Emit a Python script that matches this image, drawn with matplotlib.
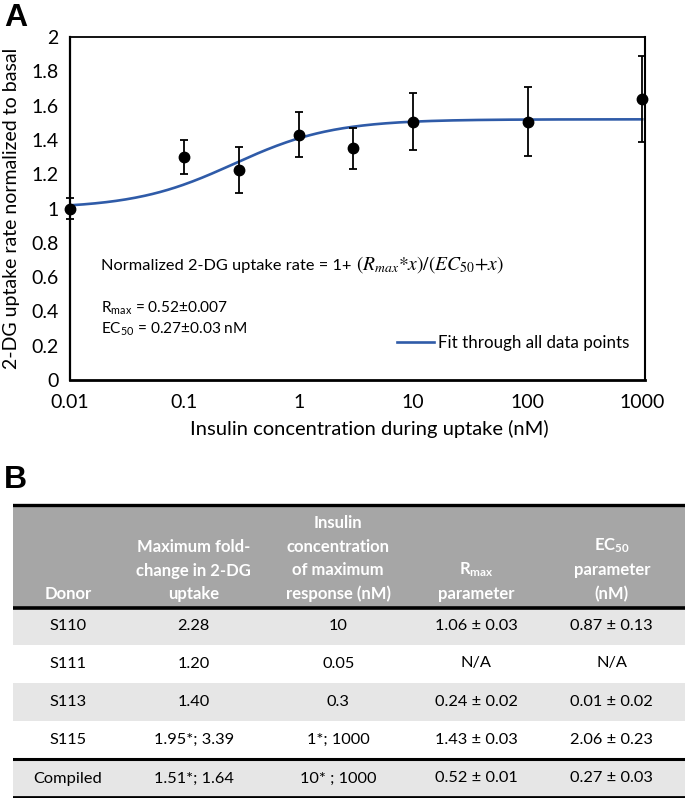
import numpy as np
import matplotlib
matplotlib.use("Agg")
import matplotlib.pyplot as plt

# ---------------- data ----------------
conc = [0.01, 0.1, 0.3, 1, 3, 10, 100, 1000]
uptake = [1.00, 1.30, 1.225, 1.43, 1.35, 1.506, 1.506, 1.64]
uptake_err = [0.06, 0.10, 0.135, 0.13, 0.12, 0.165, 0.20, 0.25]
R_MAX = 0.52
EC50 = 0.27
x_ticks = [0.01, 0.1, 1, 10, 100, 1000]
x_ticklabels = ["0.01", "0.1", "1", "10", "100", "1000"]
y_ticks = [0, 0.2, 0.4, 0.6, 0.8, 1, 1.2, 1.4, 1.6, 1.8, 2]

table_header = ["Donor",
                "Maximum fold-\nchange in 2-DG\nuptake",
                "Insulin\nconcentration\nof maximum\nresponse (nM)",
                r"R$_\mathregular{max}$" + "\nparameter",
                r"EC$_\mathregular{50}$" + "\nparameter\n(nM)"]
donors = ["S110", "S111", "S113", "S115", "Compiled"]
max_fold = ["2.28", "1.20", "1.40", "1.95*; 3.39", "1.51*; 1.64"]
insulin_max = ["10", "0.05", "0.3", "1*; 1000", "10* ; 1000"]
rmax_param = ["1.06 ± 0.03", "N/A", "0.24 ± 0.02", "1.43 ± 0.03", "0.52 ± 0.01"]
ec50_param = ["0.87 ± 0.13", "N/A", "0.01 ± 0.02", "2.06 ± 0.23", "0.27 ± 0.03"]

# ---------------- style ----------------
FONT = "Lato"
plt.rcParams["font.family"] = [FONT, "DejaVu Sans"]
plt.rcParams["mathtext.fontset"] = "stix"
BLUE = "#2f5ba8"
W, H = 685, 798

fig = plt.figure(figsize=(W / 100, H / 100), dpi=100)

# ---------------- panel A ----------------
ax = fig.add_axes([70 / W, 1 - 380 / H, 575 / W, 343 / H])
xf = np.logspace(np.log10(conc[0]), np.log10(conc[-1]), 300)
ax.plot(xf, 1 + R_MAX * xf / (EC50 + xf), color=BLUE, lw=1.9,
        label="Fit through all data points", zorder=2)
ax.errorbar(conc, uptake, yerr=uptake_err, fmt="o", color="black", ms=7.5,
            ecolor="black", elinewidth=1.3, capsize=3.2, capthick=1.3,
            clip_on=False, zorder=3)
ax.set_xscale("log")
ax.set_xlim(0.01, 1000 * 1.06)
ax.set_ylim(0, 2)
ax.set_xticks(x_ticks)
ax.set_xticklabels(x_ticklabels)
ax.minorticks_off()
ax.set_yticks(y_ticks)
ax.set_yticklabels([f"{v:g}" for v in y_ticks])
ax.tick_params(length=0, labelsize=14, pad=8)
ax.tick_params(axis="x", pad=10)
for side, lw in {"left": 1.6, "bottom": 2.0, "top": 1.3, "right": 1.5}.items():
    ax.spines[side].set_linewidth(lw)
ax.set_ylabel("2-DG uptake rate normalized to basal", fontsize=14, labelpad=8)
ax.set_xlabel("Insulin concentration during uptake (nM)", fontsize=14.5, labelpad=7)
ax.xaxis.set_label_coords(0.52, -0.115)
ax.legend(loc="center left", bbox_to_anchor=((397 - 70) / 575, 1 - (343 - 37) / 343),
          frameon=False, fontsize=12.2, handlelength=2.2, handletextpad=0.2,
          borderaxespad=0, borderpad=0)

eq_base = 1 - 270 / H
t_eq = fig.text(101 / W, eq_base, "Normalized 2-DG uptake rate = 1+",
                fontsize=11.8, va="baseline", ha="left")
ax.annotate(r"$(R_{max}{*}x)/(EC_{50}{+}x)$", xy=(1, eq_base),
            xycoords=(t_eq, "figure fraction"), xytext=(3.5, 0),
            textcoords="offset points", fontsize=14,
            va="baseline", ha="left", annotation_clip=False)
fig.text(101 / W, 1 - 308 / H, r"R$_\mathregular{max}$ = 0.52±0.007",
         fontsize=11.1, va="center", ha="left")
fig.text(101 / W, 1 - 329 / H, r"EC$_\mathregular{50}$ = 0.27±0.03 nM",
         fontsize=11.1, va="center", ha="left")

fig.text(4 / W, 1 - 3 / H, "A", fontsize=23, fontweight="bold",
         family="Liberation Sans", va="top", ha="left")
fig.text(4 / W, 1 - 465 / H, "B", fontsize=23, fontweight="bold",
         family="Liberation Sans", va="top", ha="left")

# ---------------- panel B (table) ----------------
T_TOP, T_H = 503, 295
tax = fig.add_axes([13 / W, 1 - (T_TOP + T_H) / H, 672 / W, T_H / H])
tax.set_xlim(0, 1)
tax.set_ylim(T_H, 0)
tax.axis("off")

col_x = [0.082, 0.269, 0.484, 0.689, 0.891]
HEADER_GREY = "#a6a6a6"
ROW_GREY = "#e6e6e6"
header_top, header_bot = 2, 104
row_h = 37.8
row_tops = [104, 142, 180, 218, 257]
row_fill = [ROW_GREY, "white", ROW_GREY, "white", ROW_GREY]

tax.axhspan(header_top, header_bot, color=HEADER_GREY, lw=0)
for top, fill in zip(row_tops, row_fill):
    tax.axhspan(top, top + (36.5 if top == row_tops[-1] else row_h), color=fill, lw=0)
tax.axhline(1.5, color="black", lw=2.4)
tax.axhline(104.5, color="black", lw=2.6)
tax.axhline(255.5, color="black", lw=2.2)
tax.axhline(294, color="black", lw=2.0)

for cx, txt in zip(col_x, table_header):
    tax.text(cx, 99, txt, ha="center", va="bottom", color="white",
             fontsize=12, fontweight="bold", linespacing=1.56,
             multialignment="center")

columns = [donors, max_fold, insulin_max, rmax_param, ec50_param]
for cx, col in zip(col_x, columns):
    for top, val in zip(row_tops, col):
        tax.text(cx, top + 18.5, val, ha="center", va="center",
                 color="black", fontsize=11.8)

fig.savefig("out.png", dpi=100)
